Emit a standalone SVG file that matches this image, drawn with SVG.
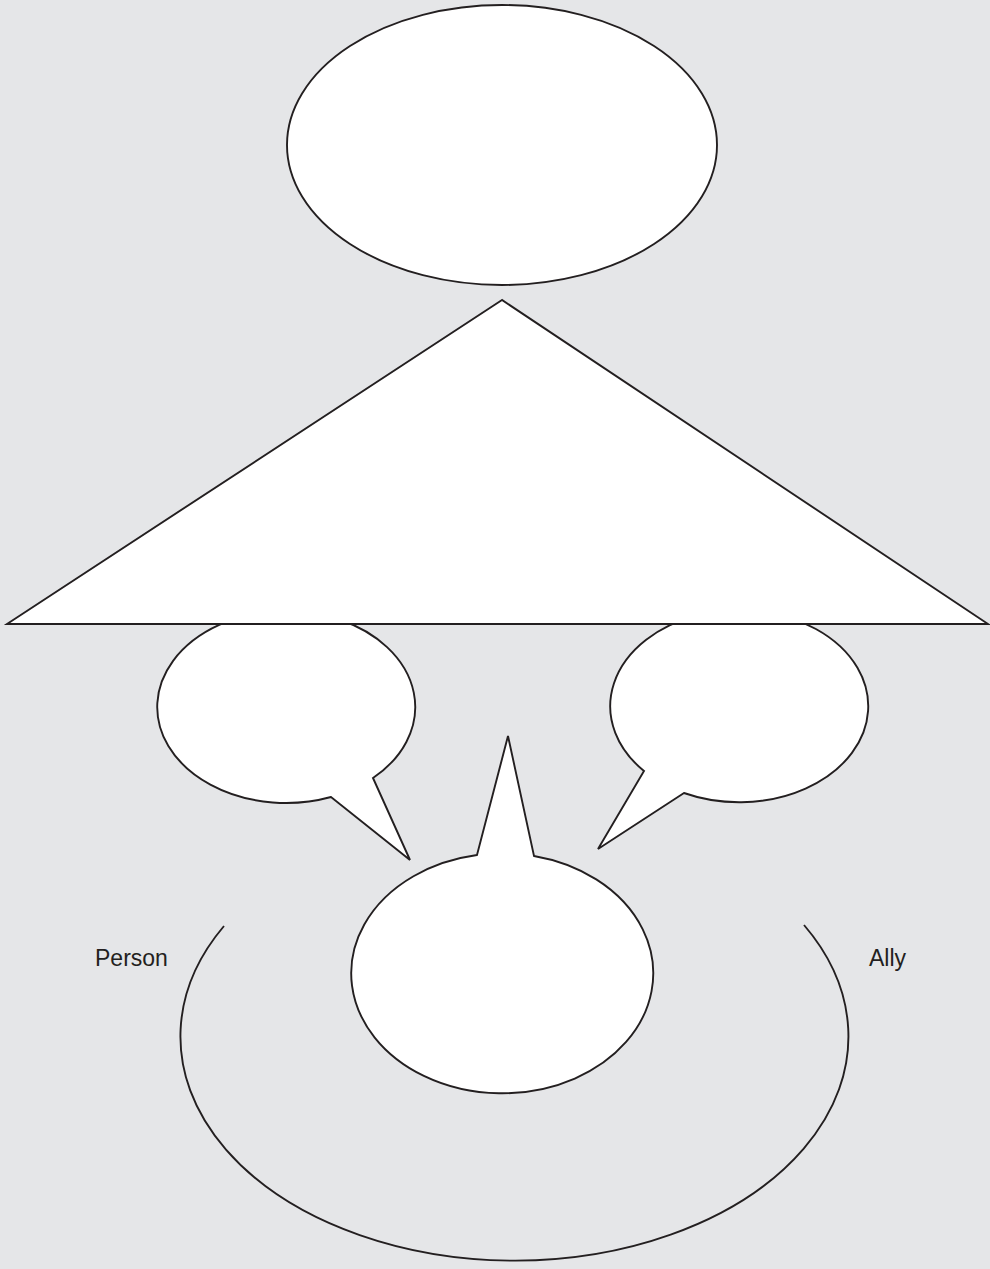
<svg xmlns="http://www.w3.org/2000/svg" width="990" height="1269" viewBox="0 0 990 1269">
<style>
.s{fill:#fff;stroke:#231f20;stroke-width:1.9;stroke-linejoin:miter}
.a{fill:none;stroke:#231f20;stroke-width:1.9}
.t{font-family:"Liberation Sans",Arial,sans-serif;font-size:23px;fill:#231f20}
</style>
<rect width="990" height="1269" fill="#e5e6e8"/>
<g id="connectors">
<path class="a" d="M224,926 A334,224 0 1 0 804,925"/>
</g>
<g id="top-ellipse"><ellipse class="s" cx="502" cy="145" rx="215" ry="140"/></g>
<g id="bubble-left"><path class="s" d="M331,797 A129,96 0 1 1 373,778 L410,860 Z"/></g>
<g id="bubble-right"><path class="s" d="M644,771 A129,96 0 1 1 684,793 L598,849 Z"/></g>
<g id="triangle"><polygon class="s" points="502,300 7,624 988,624"/></g>
<g id="bubble-center"><path class="s" d="M477,855 A151,120 0 1 0 534,856 L508,736 Z"/></g>
<g id="label-person"><text class="t" x="95" y="966">Person</text></g>
<g id="label-ally"><text class="t" x="869" y="966">Ally</text></g>
</svg>
